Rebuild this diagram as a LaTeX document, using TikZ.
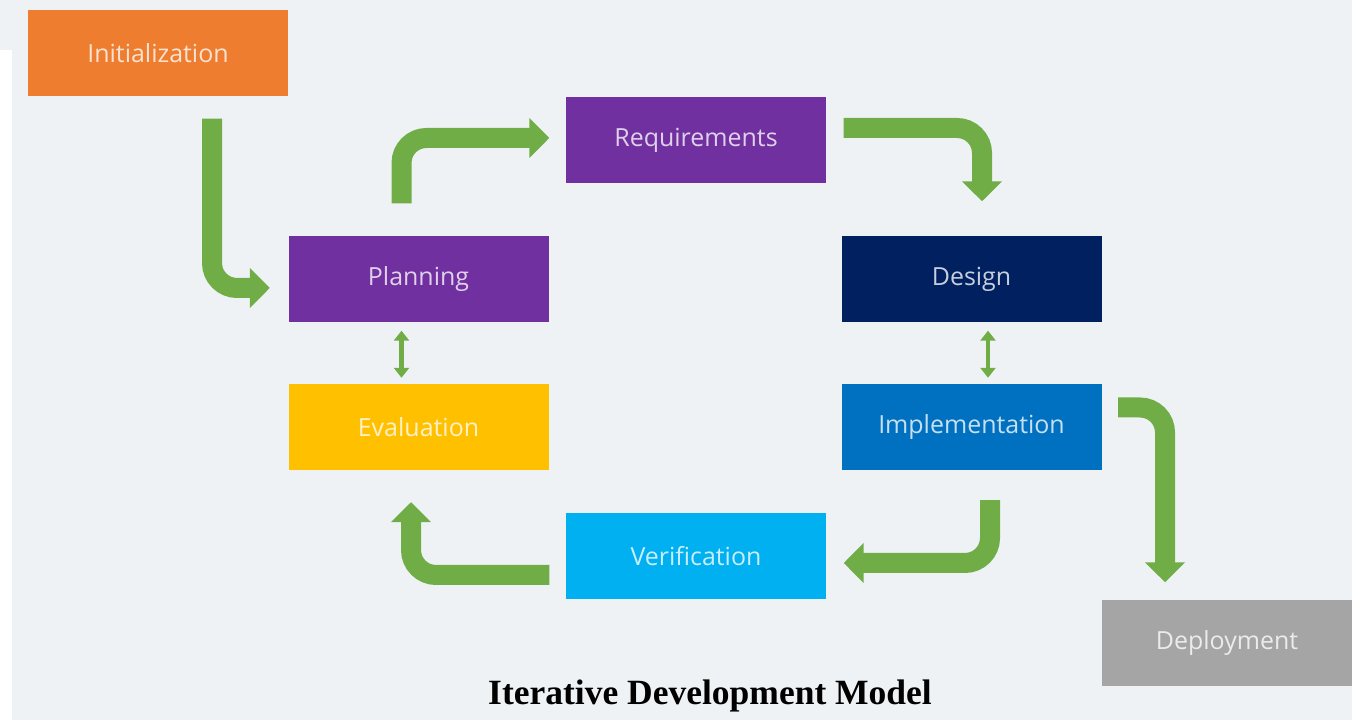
\documentclass[tikz,border=0pt]{standalone}
\usepackage{fontspec}
\setmainfont{Open Sans}
\newfontfamily\judulfont{Liberation Serif}
\usepackage{tikz}
\usetikzlibrary{arrows.meta,positioning}
\usepackage{xcolor}
\definecolor{latar}{HTML}{EEF2F5}
\definecolor{oranye}{HTML}{EE7D30}
\definecolor{ungu}{HTML}{7030A0}
\definecolor{biruTua}{HTML}{002060}
\definecolor{kuning}{HTML}{FFC000}
\definecolor{biru}{HTML}{0070C0}
\definecolor{biruMuda}{HTML}{00B0F0}
\definecolor{abu}{HTML}{A5A5A5}
\definecolor{hijau}{HTML}{70AD47}

\begin{document}
\begin{tikzpicture}[
    tahap/.style={minimum width=2.6cm, minimum height=0.86cm, inner sep=0pt,
        fill=#1, text=white!78!#1, font=\fontsize{7.1}{9}\selectfont},
    alur/.style={draw=hijau, line width=0.2cm, rounded corners=0.25cm,
        -{Triangle[width=0.39cm,length=0.2cm]}},
    bolak/.style={draw=hijau, line width=0.045cm,
        {Triangle[width=0.15cm,length=0.1cm]}-{Triangle[width=0.15cm,length=0.1cm]}}
]
    % Latar belakang
    \fill[latar] (0,0) rectangle (13.52,7.2);
    \fill[white] (0,0) rectangle (0.12,6.7);
    \useasboundingbox (0,0) rectangle (13.52,7.2);

    % Kotak tahapan
    \node[tahap=oranye] (init) at (1.58,6.67) {Initialization};
    \node[tahap=ungu] (req) at (6.96,5.795) {Requirements};
    \node[tahap=ungu] (plan) at (4.185,4.41) {Planning};
    \node[tahap=biruTua] (des) at (9.715,4.41) {Design};
    \node[tahap=kuning] (eval) at (4.185,2.925) {Evaluation};
    \node[tahap=biru] (impl) at (9.715,2.925) {Implementation};
    \node[tahap=biruMuda] (ver) at (6.96,1.635) {Verification};
    \node[tahap=abu, minimum width=2.5cm] (dep) at (12.27,0.77) {Deployment};

    % Panah siklus
    \draw[alur] ([xshift=0.54cm,yshift=-0.22cm]init.south) |- ([xshift=-0.18cm,yshift=-0.09cm]plan.west);
    \draw[alur] ([xshift=-0.17cm,yshift=0.32cm]plan.north) |- ([xshift=-0.16cm,yshift=0.025cm]req.west);
    \draw[alur] ([xshift=0.17cm,yshift=0.125cm]req.east) -| ([xshift=0.105cm,yshift=0.34cm]des.north);
    \draw[alur] ([xshift=0.185cm,yshift=-0.29cm]impl.south) |- ([xshift=0.17cm,yshift=-0.065cm]ver.east);
    \draw[alur] ([xshift=-0.16cm,yshift=-0.185cm]ver.west) -| ([xshift=-0.075cm,yshift=-0.31cm]eval.south);
    \draw[alur] ([xshift=0.16cm,yshift=0.2cm]impl.east) -| ([xshift=-0.62cm,yshift=0.17cm]dep.north);

    % Panah dua arah
    \draw[bolak] ([xshift=-0.17cm,yshift=-0.08cm]plan.south) -- ([xshift=-0.17cm,yshift=0.06cm]eval.north);
    \draw[bolak] ([xshift=0.165cm,yshift=-0.08cm]des.south) -- ([xshift=0.165cm,yshift=0.06cm]impl.north);

    % Judul
    \node[font=\judulfont\bfseries\fontsize{10.1}{12}\selectfont] (judul) at (7.1,0.24) {Iterative Development Model};
\end{tikzpicture}
\end{document}
